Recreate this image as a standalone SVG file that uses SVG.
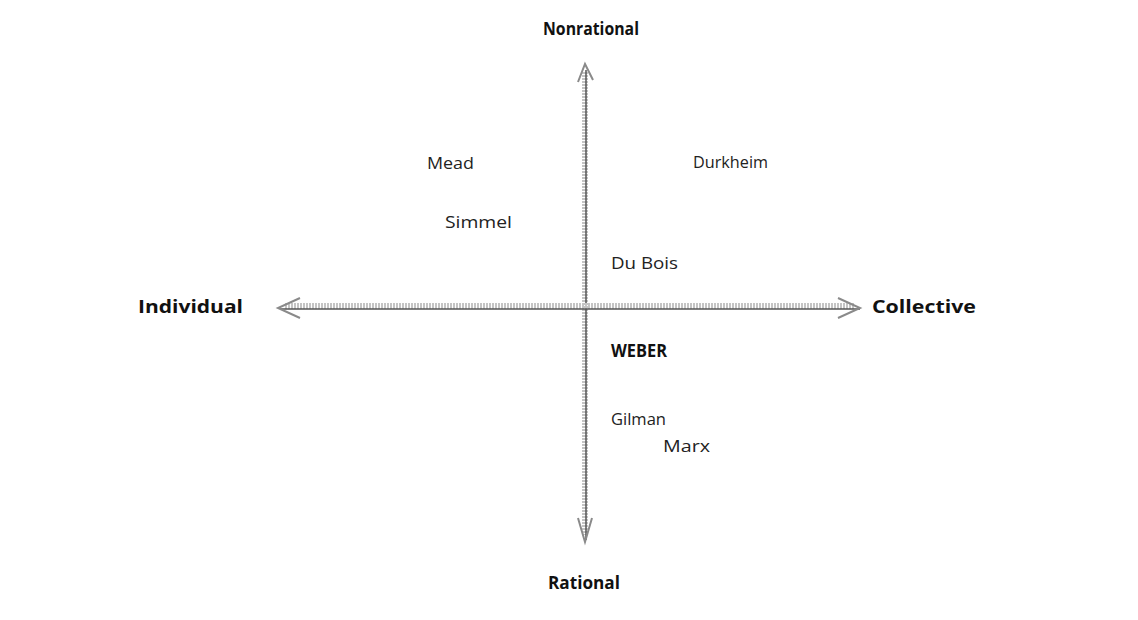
<svg xmlns="http://www.w3.org/2000/svg" width="1138" height="620" viewBox="0 0 1138 620">
<style>
.lbl{font-family:"Open Sans","Liberation Sans",sans-serif;font-size:17px;fill:#222}
.ax{font-family:"Open Sans","Liberation Sans",sans-serif;font-size:17px;font-weight:bold;fill:#111}
.band{stroke:#c4c4c4;stroke-width:6;stroke-dasharray:2 1;fill:none}
.core{stroke:#555;stroke-width:1.5;fill:none}
.head{stroke:#8a8a8a;stroke-width:2;fill:none}
</style>
<rect width="1138" height="620" fill="#fff"/>
<g id="connectors">
<line class="band" x1="585" y1="72" x2="585" y2="535"/>
<line class="core" x1="586" y1="70" x2="586" y2="540"/>
<polyline class="head" points="578,82 585,64 593,80"/>
<polyline class="head" points="578,518 585,542 592,518"/>
<line class="band" x1="285" y1="306" x2="855" y2="306"/>
<line class="core" x1="280" y1="309" x2="860" y2="309"/>
<polyline class="head" points="300,298 278,308 300,318"/>
<polyline class="head" points="838,298 860,308 838,318"/>
</g>
<g id="nonrational"><text class="ax" x="543" y="35" textLength="96" lengthAdjust="spacingAndGlyphs">Nonrational</text></g>
<g id="rational"><text class="ax" x="548" y="589" textLength="72" lengthAdjust="spacingAndGlyphs">Rational</text></g>
<g id="individual"><text class="ax" x="138" y="313" textLength="105" lengthAdjust="spacingAndGlyphs">Individual</text></g>
<g id="collective"><text class="ax" x="872" y="313" textLength="104" lengthAdjust="spacingAndGlyphs">Collective</text></g>
<g id="mead"><text class="lbl" x="427" y="169" textLength="47" lengthAdjust="spacingAndGlyphs">Mead</text></g>
<g id="durkheim"><text class="lbl" x="693" y="168" textLength="75" lengthAdjust="spacingAndGlyphs">Durkheim</text></g>
<g id="simmel"><text class="lbl" x="445" y="228" textLength="67" lengthAdjust="spacingAndGlyphs">Simmel</text></g>
<g id="dubois"><text class="lbl" x="611" y="269" textLength="67" lengthAdjust="spacingAndGlyphs">Du Bois</text></g>
<g id="weber"><text class="ax" x="611" y="357" textLength="56" lengthAdjust="spacingAndGlyphs">WEBER</text></g>
<g id="gilman"><text class="lbl" x="611" y="425" textLength="55" lengthAdjust="spacingAndGlyphs">Gilman</text></g>
<g id="marx"><text class="lbl" x="663" y="452" textLength="47" lengthAdjust="spacingAndGlyphs">Marx</text></g>
</svg>
